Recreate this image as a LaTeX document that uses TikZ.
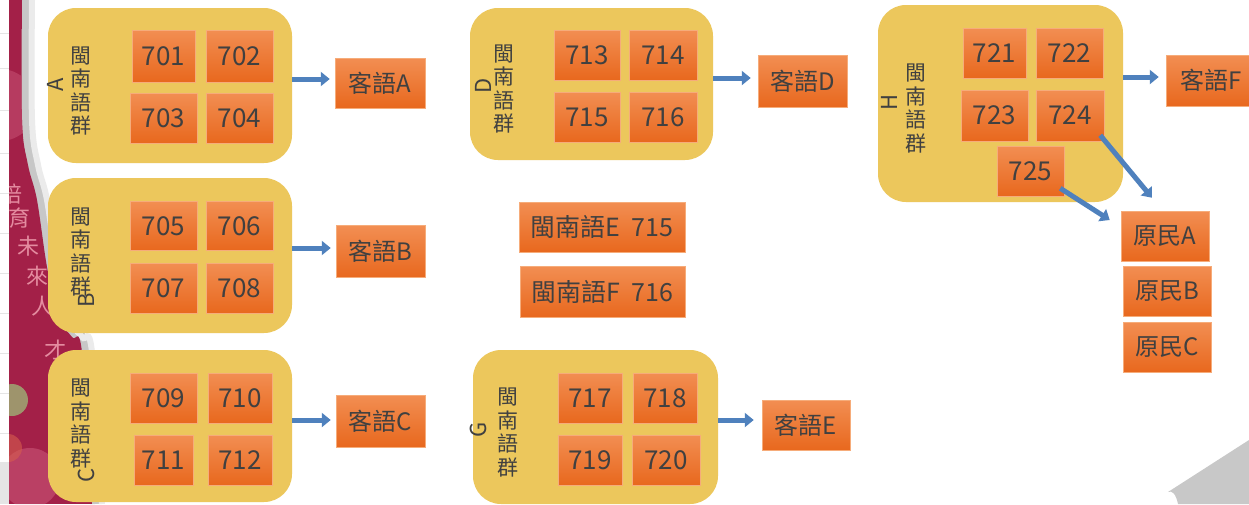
\documentclass[tikz,border=0pt]{standalone}
\usepackage{fontspec}
\setmainfont{Noto Sans CJK TC}
\usetikzlibrary{arrows.meta}
\definecolor{yel}{RGB}{236,199,92}
\definecolor{orgT}{RGB}{242,142,82}
\definecolor{orgB}{RGB}{232,104,30}
\definecolor{orgE}{RGB}{246,172,122}
\definecolor{txt}{RGB}{64,64,64}
\definecolor{blu}{RGB}{79,129,189}
\definecolor{crim}{RGB}{163,32,72}
\definecolor{rose}{RGB}{196,78,112}
\definecolor{olive}{RGB}{158,148,108}
\definecolor{slog}{RGB}{228,140,160}
\definecolor{curl}{RGB}{200,200,200}
\begin{document}
\begin{tikzpicture}[x=1pt,y=-1pt,
  ob/.style={rectangle, top color=orgT, bottom color=orgB, draw=orgE, line width=0.5pt,
    text=txt, font=\fontsize{24}{24}\selectfont, inner sep=0pt},
  obn/.style={ob, font=\fontsize{26}{26}\selectfont},
  yb/.style={rectangle, rounded corners=28pt, fill=yel, inner sep=0pt},
  lab/.style={align=center, inner sep=0pt, text=txt, font=\fontsize{21}{23.5}\selectfont},
  ltr/.style={rotate=90, inner sep=0pt, text=txt, font=\fontsize{22}{22}\selectfont},
  arr/.style={draw=blu, line width=5pt, -{Triangle[width=14pt,length=9pt]}},
  slg/.style={inner sep=0pt, text=slog, font=\fontsize{22}{22}\selectfont}
]
\useasboundingbox (0,0) rectangle (1249,504);
\clip (0,0) rectangle (1249,504);
\fill[white] (0,0) rectangle (1249,504);

% ---- background slide decoration (left) ----
\draw[black!22, line width=9pt] plot[smooth, tension=0.6] coordinates {(25,0) (25,120) (31,165) (40,200) (50,267) (61,317) (75,337) (85,352) (95,504)};
\draw[black!8, line width=6pt] plot[smooth, tension=0.6] coordinates {(32,0) (32,120) (38,165) (47,200) (57,267) (68,317) (82,337) (92,352) (102,504)};
\begin{scope}
\clip (0,0) -- plot[smooth, tension=0.6] coordinates {(22,0) (22,120) (28,165) (37,200) (47,267) (58,317) (72,337) (82,352) (92,504)} -- (0,504) -- cycle;
\fill[crim] (0,0) rectangle (120,504);
\fill[rose, opacity=0.6] (0,105) circle (36);
\fill[olive] (12,400) circle (16);
\fill[rose, opacity=0.7] (30,478) circle (30);
\fill[rose!70!orange, opacity=0.6] (8,448) circle (14);
\end{scope}
\node[slg] (s1) at (11,194) {培};
\node[slg] (s2) at (20,218) {育};
\node[slg] (s3) at (28,246) {未};
\node[slg] (s4) at (37,276) {來};
\node[slg] (s5) at (42,306) {人};
\node[slg] (s6) at (55,350) {才};
\node[slg] (s7) at (60,372) {的};
\fill[white] (0,0) rectangle (9,462);
\foreach \yy in {33,68,110,153,193,233,273,313,353,393,433}
  \draw[black!10, line width=0.6pt] (0,\yy) -- (9,\yy);
\fill[black!10] (0,462) rectangle (9,504);

% bottom-right page curl
\fill[curl] (1168,492) .. controls (1172,490) and (1176,494) .. (1178,504) -- (1249,504) -- (1249,440) -- cycle;

% ---- yellow group boxes ----
\node[yb, minimum width=244pt, minimum height=155pt] (gA) at (170,85.5) {};
\node[yb, minimum width=244pt, minimum height=155pt] (gB) at (170,255.5) {};
\node[yb, minimum width=244pt, minimum height=152pt] (gC) at (170,426) {};
\node[yb, minimum width=243pt, minimum height=152pt] (gD) at (591.5,84) {};
\node[yb, minimum width=245pt, minimum height=154pt] (gG) at (595.5,427) {};
\node[yb, minimum width=245pt, minimum height=197pt] (gH) at (1000.5,103.5) {};

% ---- group labels ----
\node[lab] (lA) at (81,91) {閩\\南\\語\\群};
\node[ltr] (LA) at (55,85) {A};
\node[lab] (lB) at (81,252) {閩\\南\\語\\群};
\node[ltr] (LB) at (86,300) {B};
\node[lab] (lC) at (81,423.5) {閩\\南\\語\\群};
\node[ltr] (LC) at (86,475) {C};
\node[lab] (lD) at (504,89) {閩\\南\\語\\群};
\node[ltr] (LD) at (483,86) {D};
\node[lab] (lG) at (508,432.5) {閩\\南\\語\\群};
\node[ltr] (LG) at (478,430) {G};
\node[lab] (lH) at (916,108.5) {閩\\南\\語\\群};
\node[ltr] (LH) at (889,102) {H};

% ---- orange boxes ----
\node[obn, minimum width=63pt, minimum height=52pt] (n701) at (163.5,56) {701};
\node[obn, minimum width=67pt, minimum height=52pt] (n702) at (239.5,56) {702};
\node[obn, minimum width=67pt, minimum height=50pt] (n703) at (163.5,118) {703};
\node[obn, minimum width=67pt, minimum height=50pt] (n704) at (239.5,118) {704};
\node[ob, minimum width=90pt, minimum height=50pt] (kA) at (380,83) {客語A};

\node[obn, minimum width=67pt, minimum height=49pt] (n705) at (163.5,226) {705};
\node[obn, minimum width=67pt, minimum height=49pt] (n706) at (239.5,226) {706};
\node[obn, minimum width=67pt, minimum height=50pt] (n707) at (163.5,288) {707};
\node[obn, minimum width=67pt, minimum height=50pt] (n708) at (239.5,288) {708};
\node[ob, minimum width=89pt, minimum height=52pt] (kB) at (380.5,251.5) {客語B};

\node[obn, minimum width=67pt, minimum height=50pt] (n709) at (163.5,398) {709};
\node[obn, minimum width=64pt, minimum height=50pt] (n710) at (240,398) {710};
\node[obn, minimum width=59pt, minimum height=50pt] (n711) at (163.5,460) {711};
\node[obn, minimum width=64pt, minimum height=50pt] (n712) at (240,460) {712};
\node[ob, minimum width=89pt, minimum height=52pt] (kC) at (380.5,421) {客語C};

\node[obn, minimum width=66pt, minimum height=50pt] (n713) at (587,55) {713};
\node[obn, minimum width=68pt, minimum height=50pt] (n714) at (663,55) {714};
\node[obn, minimum width=66pt, minimum height=50pt] (n715) at (587,117) {715};
\node[obn, minimum width=68pt, minimum height=50pt] (n716) at (663,117) {716};
\node[ob, minimum width=89pt, minimum height=52pt] (kD) at (802.5,81) {客語D};

\node[ob, font=\fontsize{25}{25}\selectfont, minimum width=166pt, minimum height=50pt] (mE) at (602,227) {閩南語E\hspace{0.45em}715};
\node[ob, font=\fontsize{25}{25}\selectfont, minimum width=165pt, minimum height=51pt] (mF) at (602.5,291.5) {閩南語F\hspace{0.45em}716};

\node[obn, minimum width=64pt, minimum height=50pt] (n717) at (590,398) {717};
\node[obn, minimum width=64pt, minimum height=50pt] (n718) at (665,398) {718};
\node[obn, minimum width=64pt, minimum height=50pt] (n719) at (590,460) {719};
\node[obn, minimum width=68pt, minimum height=50pt] (n720) at (666,460) {720};
\node[ob, minimum width=88pt, minimum height=50pt] (kE) at (806,425) {客語E};

\node[obn, minimum width=63pt, minimum height=50pt] (n721) at (994.5,53) {721};
\node[obn, minimum width=67pt, minimum height=50pt] (n722) at (1069.5,53) {722};
\node[obn, minimum width=67pt, minimum height=51pt] (n723) at (994.5,115.5) {723};
\node[obn, minimum width=68pt, minimum height=51pt] (n724) at (1070,115.5) {724};
\node[obn, minimum width=67pt, minimum height=50pt] (n725) at (1030.5,171) {725};
\node[ob, minimum width=90pt, minimum height=51pt] (kF) at (1211,80.5) {客語F};
\node[ob, minimum width=88pt, minimum height=50pt] (yA) at (1165,236) {原民A};
\node[ob, minimum width=88pt, minimum height=50pt] (yB) at (1167,291) {原民B};
\node[ob, minimum width=88pt, minimum height=50pt] (yC) at (1167,347) {原民C};

% ---- arrows ----
\coordinate (aA) at ([yshift=6.5pt]gA.east);
\draw[arr, shorten >=5pt] (aA) -- (aA -| kA.west);
\coordinate (aB) at ([yshift=7.5pt]gB.east);
\draw[arr, shorten >=5pt] (aB) -- (aB -| kB.west);
\coordinate (aC) at ([yshift=6pt]gC.east);
\draw[arr, shorten >=5pt] (aC) -- (aC -| kC.west);
\coordinate (aD) at ([yshift=6pt]gD.east);
\draw[arr, shorten >=7pt] (aD) -- (aD -| kD.west);
\coordinate (aG) at ([yshift=7pt]gG.east);
\draw[arr, shorten >=8pt] (aG) -- (aG -| kE.west);
\coordinate (aH) at ([yshift=26.5pt]gH.east);
\draw[arr, shorten >=7pt] (aH) -- (aH -| kF.west);
\draw[arr] ([xshift=-4pt,yshift=6pt]n724.south east) -- ([xshift=-13pt,yshift=13pt]yA.north);
\draw[arr] ([xshift=-4pt,yshift=8pt]n725.south east) -- ([xshift=-11pt,yshift=16pt]yA.west);
\end{tikzpicture}
\end{document}
